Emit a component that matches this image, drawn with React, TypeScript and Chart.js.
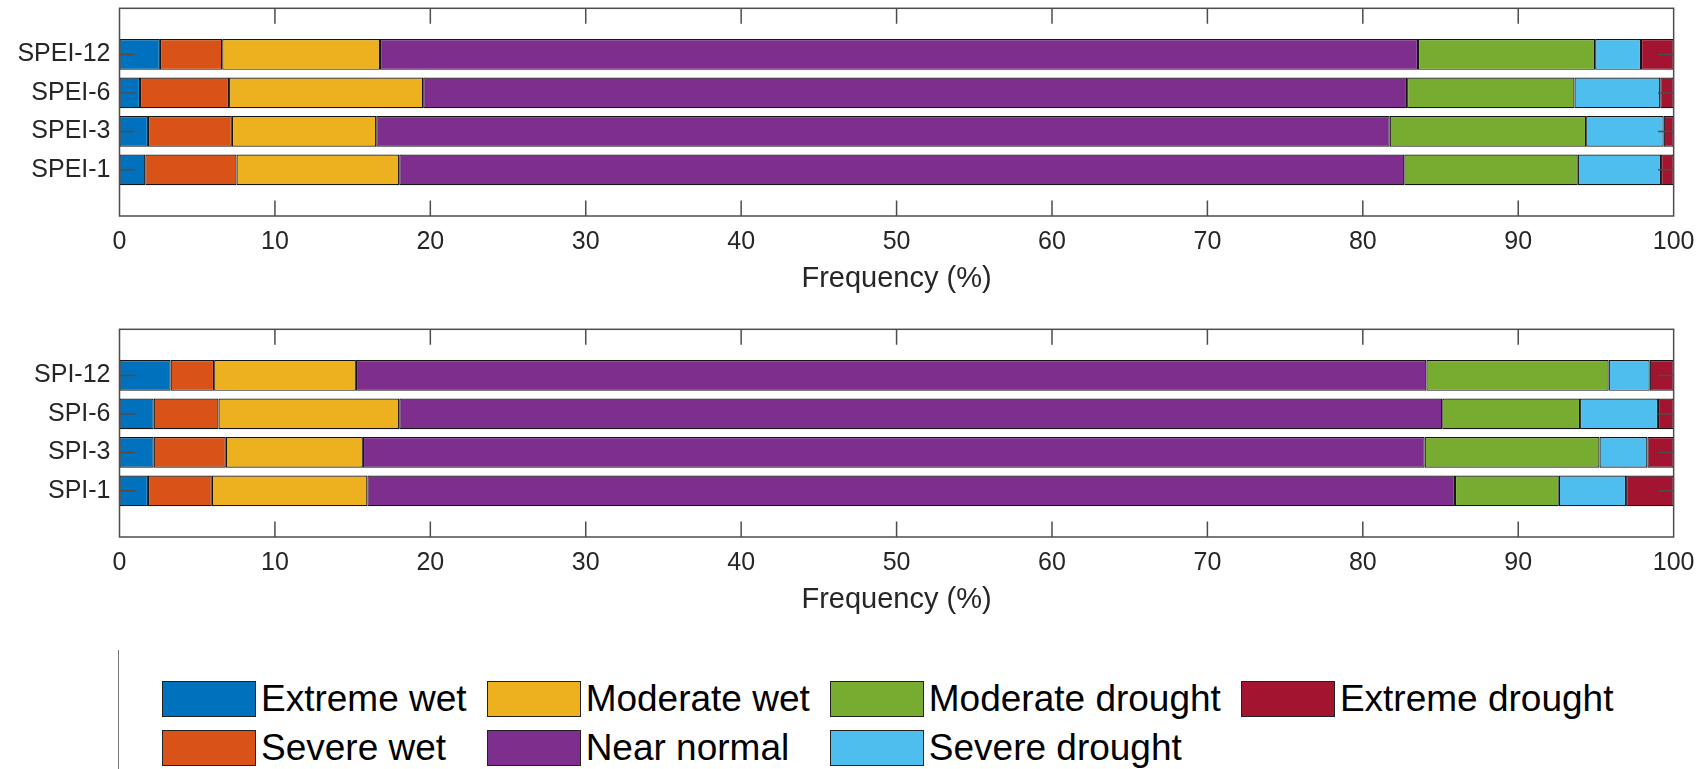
import React, { useEffect, useRef } from "react";
import { Chart, registerables } from "chart.js";

Chart.register(...registerables);

// Drought / wetness classes, in stacking order (left to right)
const classNames = [
  "Extreme wet",
  "Severe wet",
  "Moderate wet",
  "Near normal",
  "Moderate drought",
  "Severe drought",
  "Extreme drought",
];
const classColors = ["#0072BD", "#D95319", "#EDB120", "#7E2F8E", "#77AC30", "#4DBEEE", "#A2142F"];

// Row labels, bottom row first
const speiLabels = ["SPEI-1", "SPEI-3", "SPEI-6", "SPEI-12"];
const spiLabels = ["SPI-1", "SPI-3", "SPI-6", "SPI-12"];

// Frequency (%) of each class per index
const spei1 = [1.66, 5.87, 10.47, 64.67, 11.16, 5.36, 0.81];
const spei3 = [1.83, 5.4, 9.29, 65.21, 12.64, 4.99, 0.64];
const spei6 = [1.32, 5.73, 12.49, 63.31, 10.77, 5.52, 0.86];
const spei12 = [2.6, 4.01, 10.15, 66.79, 11.4, 2.95, 2.1];

const spi1 = [1.83, 4.11, 10.01, 69.98, 6.68, 4.33, 3.06];
const spi3 = [2.2, 4.64, 8.82, 68.32, 11.25, 3.08, 1.69];
const spi6 = [2.2, 4.17, 11.63, 67.11, 8.87, 5.01, 1.01];
const spi12 = [3.29, 2.8, 9.12, 68.88, 11.73, 2.64, 1.54];

const xTickStep = 10;
const xTitle = "Frequency (%)";

// Row axis runs a little past the first and last row
const Y_MIN = -0.2;
const Y_MAX = 5.2;

const FONT = "'Liberation Sans', Arial, Helvetica, sans-serif";
const TEXT_COLOR = "#262626";
const AXIS_COLOR = "#4d4d4d";
const TICK_LEN = 15.5;

// Box around the plot area plus inward tick marks on all four sides
const framePlugin = {
  id: "matlabFrame",
  afterDatasetsDraw(chart: any) {
    const { ctx, chartArea: a, scales } = chart;
    ctx.save();
    ctx.strokeStyle = AXIS_COLOR;
    ctx.lineWidth = 1.5;
    ctx.beginPath();
    for (const t of scales.x.ticks) {
      const px = scales.x.getPixelForValue(t.value);
      if (px <= a.left + 1 || px >= a.right - 1) continue;
      ctx.moveTo(px, a.bottom);
      ctx.lineTo(px, a.bottom - TICK_LEN);
      ctx.moveTo(px, a.top);
      ctx.lineTo(px, a.top + TICK_LEN);
    }
    for (const t of scales.y.ticks) {
      const py = scales.y.getPixelForValue(t.value);
      ctx.moveTo(a.left, py);
      ctx.lineTo(a.left + TICK_LEN, py);
      ctx.moveTo(a.right, py);
      ctx.lineTo(a.right - TICK_LEN, py);
    }
    ctx.stroke();
    ctx.strokeRect(a.left, a.top, a.right - a.left, a.bottom - a.top);
    ctx.restore();
  },
};

function Panel({ labels, rows, top }: { labels: string[]; rows: number[][]; top: number }) {
  const ref = useRef<HTMLCanvasElement | null>(null);

  useEffect(() => {
    if (!ref.current) return;
    const datasets = classNames.map((name, k) => ({
      label: name,
      data: rows.map((r, i) => ({ x: r[k], y: i + 1 })),
      backgroundColor: classColors[k],
      borderColor: "#151515",
      borderWidth: 1.2,
      borderSkipped: false as const,
      categoryPercentage: 1,
      barPercentage: 0.8,
    }));

    const chart = new Chart(ref.current, {
      type: "bar",
      data: { datasets },
      plugins: [framePlugin],
      options: {
        indexAxis: "y",
        animation: false,
        responsive: false,
        devicePixelRatio: 1,
        layout: { padding: { top: 8.3, right: 30, left: 0, bottom: 0 } },
        plugins: {
          legend: { display: false },
          tooltip: { enabled: false },
        },
        scales: {
          x: {
            type: "linear",
            position: "bottom",
            stacked: true,
            min: 0,
            max: 100,
            grid: { display: false, drawTicks: false },
            border: { display: false },
            ticks: {
              stepSize: xTickStep,
              padding: 11.5,
              color: TEXT_COLOR,
              font: { family: FONT, size: 25 },
              maxRotation: 0,
            },
            title: {
              display: true,
              text: xTitle,
              color: TEXT_COLOR,
              font: { family: FONT, size: 29 },
              padding: { top: 0, bottom: 3.3 },
            },
            afterFit: (s: any) => {
              s.height = 84;
            },
          },
          y: {
            type: "linear",
            stacked: true,
            offset: false,
            bounds: "data",
            min: Y_MIN,
            max: Y_MAX,
            grid: { display: false, drawTicks: false, offset: false },
            border: { display: false },
            afterBuildTicks: (s: any) => {
              s.ticks = labels.map((_, i) => ({ value: i + 1 }));
              s.min = Y_MIN;
              s.max = Y_MAX;
            },
            ticks: {
              autoSkip: false,
              padding: 9,
              color: TEXT_COLOR,
              font: { family: FONT, size: 25 },
              callback: (v: any) => labels[Number(v) - 1] ?? "",
            },
            afterFit: (s: any) => {
              // row labels sit well inside the axis, no edge room needed
              s.width = 119.5;
              s.paddingTop = 0;
              s.paddingBottom = 0;
            },
          },
        },
      } as any,
    });
    return () => chart.destroy();
  }, [labels, rows]);

  return (
    <canvas
      ref={ref}
      width={1706}
      height={300}
      style={{ position: "absolute", left: 0, top, width: 1706, height: 300 }}
    />
  );
}

function Legend() {
  return (
    <div
      style={{
        position: "absolute",
        left: 118,
        top: 650,
        width: 1588,
        height: 140,
        borderLeft: "1.5px solid #777",
      }}
    >
      <div
        style={{
          position: "absolute",
          left: 43,
          top: 24,
          display: "grid",
          gridTemplateRows: "49.3px 49.3px",
          gridAutoFlow: "column",
          columnGap: 20,
        }}
      >
        {classNames.map((name, k) => (
          <div key={name} style={{ display: "flex", alignItems: "center", height: 49.3 }}>
            <div
              style={{
                width: 94,
                height: 36,
                boxSizing: "border-box",
                border: "1.5px solid #222",
                background: classColors[k],
                marginRight: 5,
                flex: "none",
              }}
            />
            <span
              style={{
                fontFamily: FONT,
                fontSize: 37,
                lineHeight: "49px",
                color: "#000",
                whiteSpace: "nowrap",
              }}
            >
              {name}
            </span>
          </div>
        ))}
      </div>
    </div>
  );
}

export default function App() {
  const speiRows = [spei1, spei3, spei6, spei12];
  const spiRows = [spi1, spi3, spi6, spi12];
  return (
    <div
      style={{
        position: "fixed",
        left: 0,
        top: 0,
        width: 1706,
        height: 769,
        background: "#fff",
        overflow: "hidden",
      }}
    >
      <Panel labels={speiLabels} rows={speiRows} top={0} />
      <Panel labels={spiLabels} rows={spiRows} top={321} />
      <Legend />
    </div>
  );
}
